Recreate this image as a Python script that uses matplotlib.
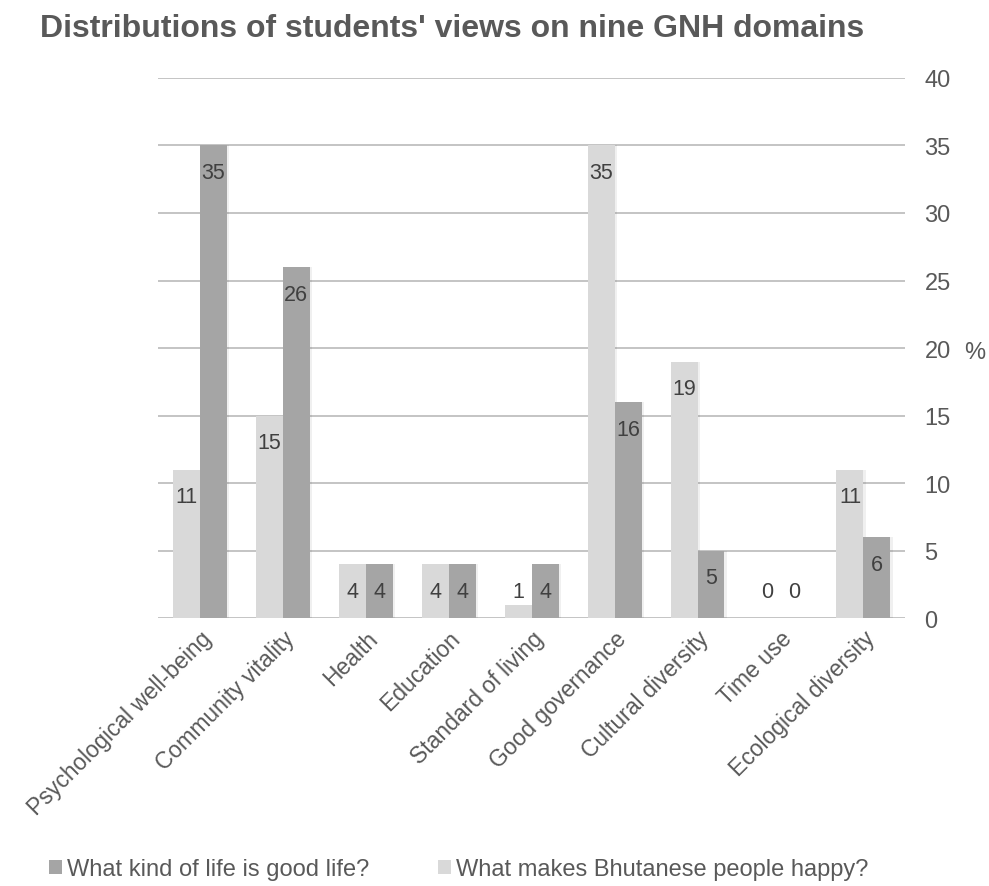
import matplotlib.pyplot as plt
import numpy as np

plt.rcParams['font.family'] = ['Liberation Sans', 'DejaVu Sans']

categories = ['Psychological well-being', 'Community vitality', 'Health', 'Education',
              'Standard of living', 'Good governance', 'Cultural diversity', 'Time use',
              'Ecological diversity']
happy = [11, 15, 4, 4, 1, 35, 19, 0, 11]
good_life = [35, 26, 4, 4, 4, 16, 5, 0, 6]
y_ticks = [0, 5, 10, 15, 20, 25, 30, 35, 40]

LIGHT = '#d9d9d9'
DARK = '#a5a5a5'
TXT = '#595959'

fig = plt.figure(figsize=(9.89, 8.87), dpi=100)
ax = fig.add_axes([0.160, 0.302, 0.755, 0.609])

x = np.arange(len(categories))
w = 0.325
sh = 0.03
# faint drop shadow behind the bars
ax.bar(x - w / 2 + sh, happy, w, color='#000000', alpha=0.06, zorder=2)
ax.bar(x + w / 2 + sh, good_life, w, color='#000000', alpha=0.06, zorder=2)
ax.bar(x - w / 2, happy, w, color=LIGHT, zorder=3, label='What makes Bhutanese people happy?')
ax.bar(x + w / 2, good_life, w, color=DARK, zorder=3, label='What kind of life is good life?')

# value labels sit just inside the top of each bar
for xi, v in zip(x - w / 2, happy):
    ax.text(xi, max(v, 4) - 2, str(v), ha='center', va='center', fontsize=15.5, color='#404040', zorder=4)
for xi, v in zip(x + w / 2, good_life):
    ax.text(xi, max(v, 4) - 2, str(v), ha='center', va='center', fontsize=15.5, color='#404040', zorder=4)

ax.set_xlim(-0.5, len(categories) - 0.5)
ax.set_ylim(0, 40)
ax.yaxis.tick_right()
ax.set_yticks(y_ticks)
ax.tick_params(axis='y', length=0, pad=14, labelsize=17, labelcolor=TXT)
ax.tick_params(axis='x', length=0, pad=6, labelsize=16.5, labelcolor=TXT)
ax.set_xticks(x)
ax.set_xticklabels(categories, rotation=45, ha='right', rotation_mode='anchor')
ax.grid(axis='y', color='#bfbfbf', linewidth=1.3, zorder=0)
for s in ax.spines.values():
    s.set_visible(False)

fig.text(0.986, 0.602, '%', fontsize=17, color=TXT, ha='center', va='center')

fig.text(0.040, 0.967, "Distributions of students' views on nine GNH domains",
         fontsize=23, fontweight='bold', color=TXT, ha='left', va='center')

# legend at the bottom, dark series first
handles, labels = ax.get_legend_handles_labels()
leg = fig.legend(handles[::-1], labels[::-1], loc='center left', bbox_to_anchor=(0.038, 0.019),
                 ncol=2, frameon=False, fontsize=17,
                 handlelength=0.55, handleheight=0.55, handletextpad=0.2, columnspacing=2.9,
                 borderpad=0)
for t in leg.get_texts():
    t.set_color(TXT)

fig.savefig('out.png', dpi=100)
